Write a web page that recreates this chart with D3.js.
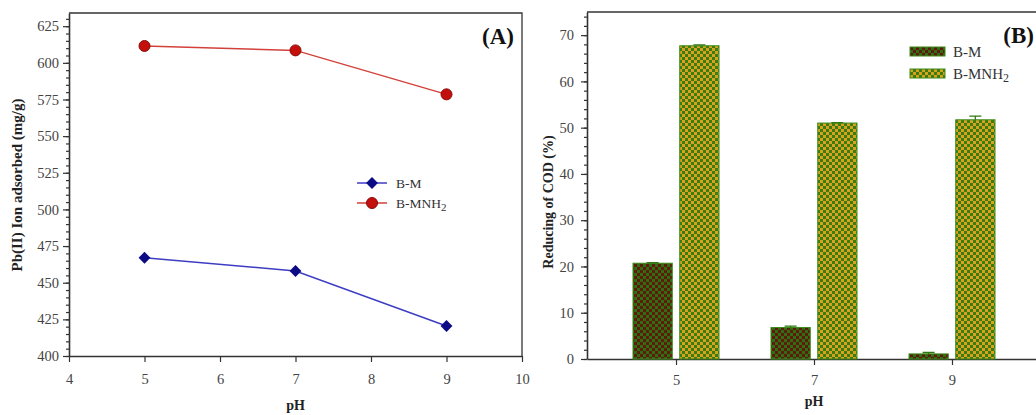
<!DOCTYPE html>
<html>
<head>
<meta charset="utf-8">
<script src="https://cdn.jsdelivr.net/npm/d3@7"></script>
<style>
  body { margin: 0; background: #fff; }
  text { font-family: "Liberation Serif", "Times New Roman", serif; fill: #333; }
</style>
</head>
<body>
<svg id="chart" width="1036" height="415"></svg>
<script>
// ---- data ----
var phValues = [5, 7, 9];
var adsorbedBM = [467, 458, 420.5];
var adsorbedBMNH2 = [611.5, 608.5, 578.5];

var phCategories = ["5", "7", "9"];
var seriesNames = ["B-M", "B-MNH2"];
var codBM = [20.7, 6.8, 1.1];
var codBMNH2 = [67.7, 51.0, 51.7];
var codErrBM = [0.1, 0.3, 0.3];
var codErrBMNH2 = [0.2, 0.1, 0.8];

var yTicksA = d3.range(400, 626, 25);
var xTicksA = d3.range(4, 11, 1);
var yTicksB = d3.range(0, 71, 10);

var svg = d3.select("#chart");
var axisColor = "#333";

/*****************/
/*  PANEL (A)    */
/*****************/
var xA = d3.scaleLinear().domain([4, 10]).range([69, 522]);
var yA = d3.scaleLinear().domain([400, 634]).range([356, 13]);

var gA = svg.append("g");

// minor ticks first, then major
gA.append("g")
    .attr("transform", "translate(" + xA(4) + ",0)")
    .call(d3.axisLeft(yA).tickValues(d3.range(400, 634, 5)).tickSize(3).tickFormat(""))
    .call(function(g) { g.select(".domain").remove(); });

gA.append("g")
    .attr("class", "axis")
    .attr("transform", "translate(" + xA(4) + ",0)")
    .call(d3.axisLeft(yA).tickValues(yTicksA).tickSize(6).tickSizeOuter(0).tickPadding(4));

gA.append("g")
    .attr("class", "axis")
    .attr("transform", "translate(0," + yA(400) + ")")
    .call(d3.axisBottom(xA).tickValues(xTicksA).tickFormat(d3.format("d"))
      .tickSize(6).tickSizeOuter(0).tickPadding(12));

// frame: top and right
gA.append("path")
    .attr("d", "M" + xA(4) + "," + yA(634) + "H" + xA(10) + "V" + yA(400))
    .attr("fill", "none")
    .attr("stroke", axisColor)
    .attr("stroke-width", 1.3);

var lineA = d3.line()
    .x(function(d, i) { return xA(phValues[i]); })
    .y(function(d) { return yA(d); });

gA.append("path")
    .datum(adsorbedBMNH2)
    .attr("d", lineA)
    .attr("fill", "none")
    .attr("stroke", "#d2413a")
    .attr("stroke-width", 1.5);

gA.append("path")
    .datum(adsorbedBM)
    .attr("d", lineA)
    .attr("fill", "none")
    .attr("stroke", "#3d3dc4")
    .attr("stroke-width", 1.5);

gA.selectAll(".dotRed")
    .data(adsorbedBMNH2)
  .enter().append("circle")
    .attr("class", "dotRed")
    .attr("cx", function(d, i) { return xA(phValues[i]); })
    .attr("cy", function(d) { return yA(d); })
    .attr("r", 5.5)
    .attr("fill", "#c4100c")
    .attr("stroke", "#8a0a06")
    .attr("stroke-width", 1);

var diamond = d3.symbol().type(d3.symbolDiamond2).size(90);

gA.selectAll(".dotBlue")
    .data(adsorbedBM)
  .enter().append("path")
    .attr("class", "dotBlue")
    .attr("d", diamond)
    .attr("transform", function(d, i) { return "translate(" + xA(phValues[i]) + "," + yA(d) + ")"; })
    .attr("fill", "#0b0b86");

// legend (A)
var legA = gA.append("g").attr("transform", "translate(357,183)");
[0, 1].forEach(function(i) {
  var row = legA.append("g").attr("transform", "translate(0," + (i * 20) + ")");
  row.append("line")
      .attr("x1", 0).attr("x2", 30)
      .attr("stroke", i === 0 ? "#3d3dc4" : "#d2413a")
      .attr("stroke-width", 1.5);
  if (i === 0) {
    row.append("path").attr("d", diamond).attr("transform", "translate(15,0)").attr("fill", "#0b0b86");
  } else {
    row.append("circle").attr("cx", 15).attr("r", 5.5).attr("fill", "#c4100c").attr("stroke", "#8a0a06");
  }
  var t = row.append("text").attr("x", 39).attr("y", 4.5).attr("font-size", 13.5).text("B-M");
  if (i === 1) {
    t.text("B-MNH");
    t.append("tspan").attr("dy", 3).attr("font-size", 11).text("2");
  }
});

gA.append("text")
    .attr("x", 514).attr("y", 44)
    .attr("text-anchor", "end")
    .attr("font-size", 23).attr("font-weight", "bold")
    .style("fill", "#111")
    .text("(A)");

gA.append("text")
    .attr("transform", "translate(22,185) rotate(-90)")
    .attr("text-anchor", "middle")
    .attr("font-size", 15).attr("font-weight", "bold")
    .style("fill", "#222")
    .text("Pb(II) Ion adsorbed (mg/g)");

gA.append("text")
    .attr("x", xA(7)).attr("y", 410)
    .attr("text-anchor", "middle")
    .attr("font-size", 14).attr("font-weight", "bold")
    .style("fill", "#222")
    .text("pH");

/*****************/
/*  PANEL (B)    */
/*****************/
var x0 = d3.scalePoint().domain(phCategories).range([587, 1041]).padding(0.645);
var x1 = d3.scaleBand().domain(seriesNames).range([-43, 43]).paddingInner(0.16);
var yB = d3.scaleLinear().domain([0, 75]).range([359, 12]);

var defs = svg.append("defs");
function checker(id, base, check) {
  var p = defs.append("pattern")
      .attr("id", id)
      .attr("patternUnits", "userSpaceOnUse")
      .attr("width", 6).attr("height", 6);
  p.append("rect").attr("width", 6).attr("height", 6).attr("fill", base);
  p.append("rect").attr("width", 3).attr("height", 3).attr("fill", check);
  p.append("rect").attr("x", 3).attr("y", 3).attr("width", 3).attr("height", 3).attr("fill", check);
}
checker("patBM", "#2f6e12", "#5e1a0a");
checker("patBMNH2", "#3b7c10", "#d9a21e");

var gB = svg.append("g");

gB.append("g")
    .attr("transform", "translate(587,0)")
    .call(d3.axisLeft(yB).tickValues(d3.range(0, 75, 2)).tickSize(3).tickFormat(""))
    .call(function(g) { g.select(".domain").remove(); });

gB.append("g")
    .attr("class", "axis")
    .attr("transform", "translate(587,0)")
    .call(d3.axisLeft(yB).tickValues(yTicksB).tickSize(6).tickSizeOuter(0).tickPadding(7));

gB.append("g")
    .attr("class", "axis")
    .attr("transform", "translate(0," + yB(0) + ")")
    .call(d3.axisBottom(x0).tickSize(6).tickSizeOuter(0).tickPadding(10));

gB.append("line")
    .attr("x1", 587).attr("x2", 1041)
    .attr("y1", yB(75)).attr("y2", yB(75))
    .attr("stroke", axisColor).attr("stroke-width", 1.3);

var groups = gB.selectAll(".grp")
    .data(phCategories)
  .enter().append("g")
    .attr("class", "grp")
    .attr("transform", function(d) { return "translate(" + x0(d) + ",0)"; });

var seriesVals = [codBM, codBMNH2];
var seriesErr = [codErrBM, codErrBMNH2];
var seriesPat = ["url(#patBM)", "url(#patBMNH2)"];

groups.each(function(cat, ci) {
  var g = d3.select(this);
  seriesNames.forEach(function(s, si) {
    var v = seriesVals[si][ci];
    var e = seriesErr[si][ci];
    var bx = x1(s);
    g.append("rect")
        .attr("x", bx)
        .attr("y", yB(v))
        .attr("width", x1.bandwidth())
        .attr("height", yB(0) - yB(v))
        .attr("fill", seriesPat[si])
        .attr("stroke", "#3a8a18")
        .attr("stroke-width", 1);
    var cx = bx + x1.bandwidth() / 2;
    g.append("path")
        .attr("d", "M" + cx + "," + yB(v) + "V" + yB(v + e) + "M" + (cx - 6) + "," + yB(v + e) + "H" + (cx + 6))
        .attr("stroke", "#2e7a12")
        .attr("stroke-width", 1.3)
        .attr("fill", "none");
  });
});

// legend (B)
var legB = gB.append("g").attr("transform", "translate(910,47)");
seriesNames.forEach(function(s, i) {
  var row = legB.append("g").attr("transform", "translate(0," + (i * 22) + ")");
  row.append("rect")
      .attr("width", 35).attr("height", 9)
      .attr("fill", seriesPat[i])
      .attr("stroke", "#3a8a18").attr("stroke-width", 1);
  var t = row.append("text").attr("x", 43).attr("y", 9.5).attr("font-size", 15).text("B-M");
  if (i === 1) {
    t.text("B-MNH");
    t.append("tspan").attr("dy", 3).attr("font-size", 12).text("2");
  }
});

gB.append("text")
    .attr("x", 1034).attr("y", 43)
    .attr("text-anchor", "end")
    .attr("font-size", 23).attr("font-weight", "bold")
    .style("fill", "#111")
    .text("(B)");

gB.append("text")
    .attr("transform", "translate(553,202) rotate(-90)")
    .attr("text-anchor", "middle")
    .attr("font-size", 14).attr("font-weight", "bold")
    .style("fill", "#222")
    .text("Reducing of COD (%)");

gB.append("text")
    .attr("x", x0("7")).attr("y", 406)
    .attr("text-anchor", "middle")
    .attr("font-size", 14).attr("font-weight", "bold")
    .style("fill", "#222")
    .text("pH");

// shared axis styling
svg.selectAll(".axis .domain").attr("stroke", axisColor).attr("stroke-width", 1.6);
svg.selectAll(".tick line").attr("stroke", axisColor).attr("stroke-width", 1.2);
svg.selectAll(".axis .tick text")
    .style("font-size", "14.5px")
    .style("fill", "#444")
    .style("font-family", "'Liberation Serif', 'Times New Roman', serif");
</script>
</body>
</html>
